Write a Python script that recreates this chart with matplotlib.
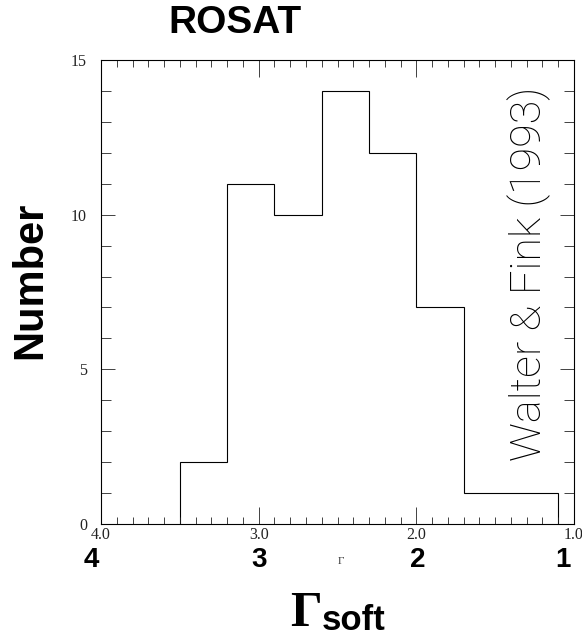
import matplotlib
matplotlib.use("Agg")
import matplotlib.pyplot as plt
from matplotlib.ticker import MultipleLocator
import matplotlib.transforms as mtransforms

# histogram of soft photon index (ROSAT)
edges = [3.5, 3.2, 2.9, 2.6, 2.3, 2.0, 1.7, 1.4, 1.1]
counts = [2, 11, 10, 14, 12, 7, 1, 1]
xticks = [4.0, 3.0, 2.0, 1.0]
xtick_labels = ["4.0", "3.0", "2.0", "1.0"]
big_labels = ["4", "3", "2", "1"]
big_pos = [4.06, 3.0, 1.99, 1.07]
yticks = [0, 5, 10, 15]

fig = plt.figure(figsize=(5.82, 6.37), dpi=100)
ax = fig.add_axes([101 / 582, 113 / 637, 473 / 582, 464 / 637])

# stairs wants increasing edges
ax.stairs(counts[::-1], edges[::-1], color="black", lw=0.8, baseline=0)

ax.set_xlim(4.0, 1.0)
ax.set_ylim(0, 15)

ax.xaxis.set_major_locator(MultipleLocator(1.0))
ax.xaxis.set_minor_locator(MultipleLocator(0.1))
ax.yaxis.set_major_locator(MultipleLocator(5))
ax.yaxis.set_minor_locator(MultipleLocator(1))
ax.tick_params(which="both", direction="in", top=True, right=True, width=0.6, color="#222222")
ax.tick_params(which="major", axis="x", length=12)
ax.tick_params(which="minor", axis="x", length=5)
ax.tick_params(which="major", axis="y", length=10)
ax.tick_params(which="minor", axis="y", length=7)
ax.set_xticks(xticks)
ax.set_xticklabels(xtick_labels, family="Liberation Serif", fontsize=11.5, color="#222222")
ax.set_yticks(yticks)
ax.set_yticklabels([str(v) for v in yticks], family="Liberation Serif", fontsize=11.5, color="#222222")
ax.tick_params(axis="x", which="major", pad=2)
ax.tick_params(axis="y", which="major", pad=10)
for s in ax.spines.values():
    s.set_linewidth(0.8)

trans = mtransforms.blended_transform_factory(ax.transData, fig.transFigure)
for p, lab in zip(big_pos, big_labels):
    ax.text(p, 1 - 560 / 637, lab, transform=trans, ha="center", va="center",
            family="Liberation Sans", fontweight="bold", fontsize=20, clip_on=False)
ax.text(2.48, 1 - 562 / 637, "Γ", transform=trans, ha="center", va="center",
        family="Liberation Serif", fontsize=8, color="#333333")

fig.text(235 / 582, 1 - 23 / 637, "ROSAT", ha="center", va="center",
         family="Liberation Sans", fontweight="bold", fontsize=28)
fig.text(30 / 582, 1 - 280 / 637, "Number", ha="center", va="center", rotation=90,
         family="Liberation Sans", fontweight="bold", fontsize=30)
fig.text(322 / 582, 1 - 626 / 637, "Γ", ha="right", va="baseline",
         family="Liberation Serif", fontweight="bold", fontsize=36)
fig.text(322 / 582, 1 - 630 / 637, "soft", ha="left", va="baseline",
         family="Liberation Sans", fontweight="bold", fontsize=25)

ax.text(529 / 582, 1 - 274 / 637, "Walter & Fink (1993)", transform=fig.transFigure,
        ha="center", va="center", rotation=90, family="Roboto", fontweight="light",
        fontsize=31)

fig.savefig("out.png", dpi=100)
